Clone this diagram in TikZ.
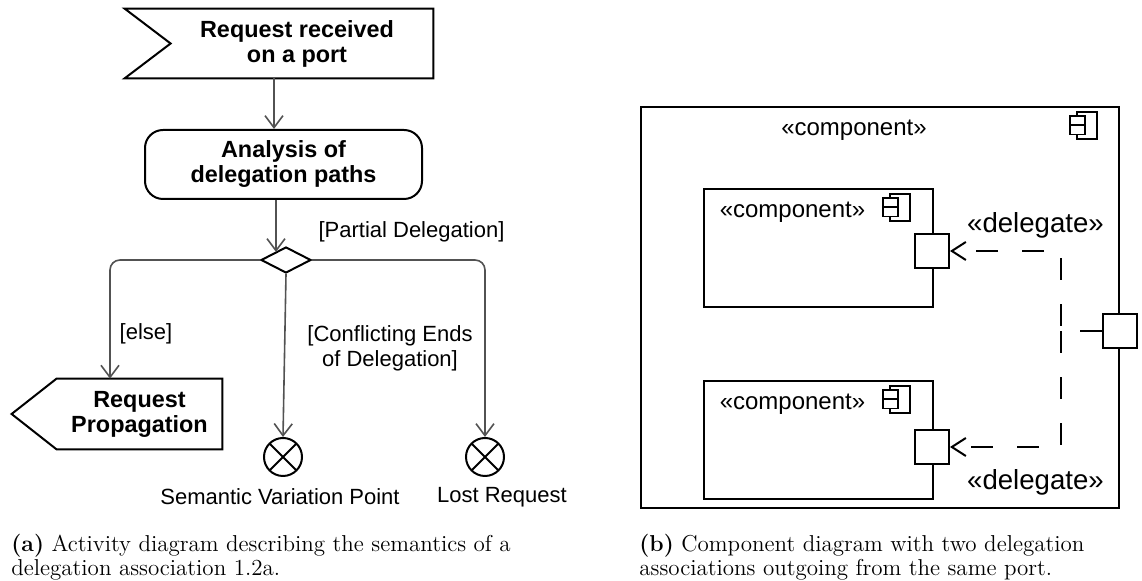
\documentclass[tikz,border=0pt]{standalone}
\usepackage{fontspec}
\newfontfamily\umlfont{Liberation Sans}
\usetikzlibrary{arrows.meta}
\usetikzlibrary{shapes.geometric,positioning}
\tikzset{>={Straight Barb[length=6pt,width=9pt]}}
\colorlet{flowColor}{black!68}
\colorlet{penColor}{black}

\tikzset{
  sigtext/.style={font=\umlfont\bfseries\fontsize{11.7}{12.5}\selectfont, align=center, inner sep=0pt},
  actbox/.style={draw=penColor, line width=1pt, rounded corners=9pt, align=center,
    font=\umlfont\bfseries\fontsize{11.7}{12.5}\selectfont, minimum width=138.5pt, minimum height=34.5pt},
  decision/.style={diamond, draw=penColor, line width=1pt, minimum width=25pt, minimum height=13pt, inner sep=0pt},
  flow/.style={->, draw=flowColor, line width=0.8pt},
  guard/.style={font=\umlfont\fontsize{11}{12.5}\selectfont, align=center, inner sep=0pt},
  flowfinal/.style={circle, draw=penColor, line width=1pt, minimum size=19pt, inner sep=0pt,
    path picture={\draw[line width=1pt] (path picture bounding box.north west) -- (path picture bounding box.south east)
      (path picture bounding box.north east) -- (path picture bounding box.south west);}},
  compbox/.style={draw=penColor, line width=1pt, minimum width=114.5pt, minimum height=59pt, inner sep=0pt},
  portbox/.style={draw=penColor, fill=white, line width=1pt, minimum size=17pt, inner sep=0pt},
  stereo/.style={font=\umlfont\fontsize{12}{14}\selectfont, inner sep=0pt},
  deleg/.style={draw=penColor, line width=1pt, dash pattern=on 11pt off 12pt,
    -{Straight Barb[length=7pt,width=9pt]}},
  caption/.style={font=\fontsize{11.5}{12}\selectfont, align=left, anchor=west, inner sep=0pt},
  compicon/.pic={
    \draw[line width=0.8pt] (-5pt,6.75pt) rectangle (5pt,-6.75pt);
    \draw[line width=0.8pt, fill=white] (-8.5pt,4.75pt) rectangle (-1pt,0.25pt);
    \draw[line width=0.8pt, fill=white] (-8.5pt,0.25pt) rectangle (-1pt,-4.5pt);
  }
}

\begin{document}
\begin{tikzpicture}[x=0.5pt,y=-0.5pt]
\useasboundingbox (0,0) rectangle (1142,581);

% (a) activity diagram
\node[sigtext, minimum width=136pt, minimum height=34.5pt] (recv) at (297,43.5) {Request received\\on a port};
\draw[penColor, line width=1pt] ([xshift=-18pt]recv.north west) -- (recv.north east) -- (recv.south east)
  -- ([xshift=-18pt]recv.south west) -- ([xshift=5pt]recv.west) -- cycle;
\node[actbox] (analysis) at (283.5,164.5) {Analysis of\\delegation paths};
\node[decision] (dec) at (286,260) {};
\node[sigtext, minimum width=82.5pt, minimum height=35pt] (prop) at (139.5,414) {Request\\Propagation};
\draw[penColor, line width=1pt] (prop.north west) -- (prop.north east) -- (prop.south east)
  -- (prop.south west) -- ([xshift=-22.5pt]prop.west) -- cycle;
\node[flowfinal] (semvar) at (283,457) {};
\node[flowfinal] (lost) at (485,457) {};

\draw[flow] ([xshift=-4.75pt]analysis.north |- recv.south) -- ([xshift=-4.75pt]analysis.north);
\draw[flow] ([xshift=-3.75pt]analysis.south) -- ([xshift=-5pt,yshift=-3pt]dec.north);
\draw[flow, rounded corners=5pt] (dec.west) -| ([xshift=-14.75pt]prop.north);
\draw[flow] (dec.south) -- (semvar.north);
\draw[flow, rounded corners=5pt] (dec.east) -| (lost.north);

\node[guard] (partial) at (411.5,232) {[Partial Delegation]};
\node[guard] (elseLbl) at (146,334) {[else]};
\node[guard] (conflict) at (390,348.5) {[Conflicting Ends\\ of Delegation]};
\node[guard] (semLbl) at (280,497) {Semantic Variation Point};
\node[guard] (lostLbl) at (502,497) {Lost Request};

\node[caption] (capA) at (11,557) {\textbf{(a)} Activity diagram describing the semantics of a\\delegation association 1.2a.};

% (b) component diagram
\node[draw=penColor, line width=1pt, minimum width=239pt, minimum height=200.5pt] (outer) at (880,307.5) {};
\node[stereo] (outerLbl) at (854,130) {«component»};
\pic at (1087,125.5) {compicon};

\node[compbox] (compA) at (818.5,248) {};
\node[stereo] (compALbl) at (792.5,212) {«component»};
\pic at (900,207.5) {compicon};
\node[compbox] (compB) at (818.5,440) {};
\node[stereo] (compBLbl) at (792.5,404) {«component»};
\pic at (900,399.5) {compicon};

\node[portbox] (portA) at (932,251) {};
\node[portbox] (portB) at (932,447) {};
\node[portbox] (outport) at (1119.5,331.5) {};
\coordinate (jn) at (1061,331.5);

\draw[deleg] (outport.west) -- (jn) |- (portA.east);
\draw[deleg] (jn) |- (portB.east);
\node[stereo, font=\umlfont\fontsize{13.8}{16}\selectfont] (delegA) at (1035.5,225) {«delegate»};
\node[stereo, font=\umlfont\fontsize{13.8}{16}\selectfont] (delegB) at (1035.5,482) {«delegate»};

\node[caption] (capB) at (639,557) {\textbf{(b)} Component diagram with two delegation\\associations outgoing from the same port.};
\end{tikzpicture}
\end{document}
